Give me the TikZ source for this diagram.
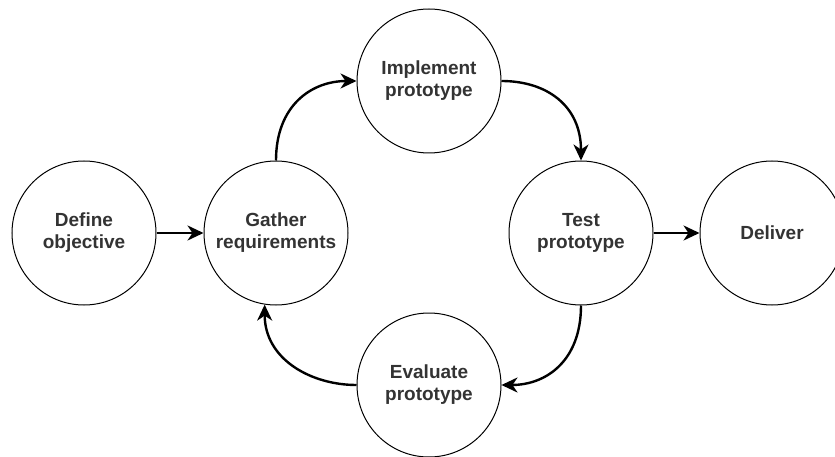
\documentclass[tikz,border=0pt]{standalone}
\usepackage{fontspec}
\setmainfont{Liberation Sans}
\usetikzlibrary{arrows.meta}
\begin{document}
\begin{tikzpicture}[x=1pt,y=-1pt,
  state/.style={circle, draw, line width=1pt, minimum size=144pt, inner sep=0pt,
    align=center, font=\fontsize{19}{22}\selectfont\bfseries, text=black!80},
  conn/.style={line width=2.4pt, -{Stealth[length=16pt,width=15pt,inset=5pt]}}]
\useasboundingbox (0,0) rectangle (835,457);
\clip (0,0) rectangle (835,457);
\node[state] (D) at (84,233) {Define\\objective};
\node[state] (G) at (276,233) {Gather\\requirements};
\node[state] (I) at (429,81) {Implement\\prototype};
\node[state] (T) at (581,233) {Test\\prototype};
\node[state] (V) at (772,233) {Deliver};
\node[state] (E) at (429,385) {Evaluate\\prototype};
\draw[conn] (D) -- (G);
\draw[conn] (T) -- (V);
\draw[conn] (G.north) .. controls +(0,-55) and +(-45,0) .. (I.west);
\draw[conn] (I.east) .. controls +(45,0) and +(0,-55) .. (T.north);
\draw[conn] (T.south) .. controls +(0,55) and +(45,0) .. (E.east);
\draw[conn] (E.west) .. controls +(-45,0) and +(0,55) .. (G.-99);
\end{tikzpicture}
\end{document}
